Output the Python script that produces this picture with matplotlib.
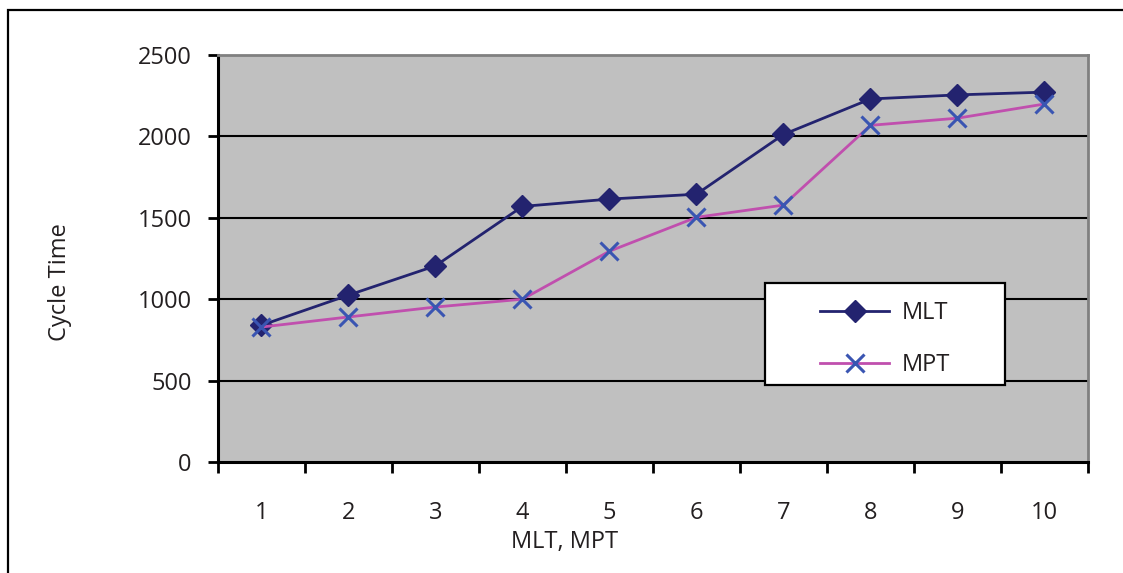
import matplotlib
matplotlib.use("Agg")
import matplotlib.pyplot as plt
from matplotlib.patches import Rectangle
from matplotlib.ticker import FixedLocator

# data
categories = [1, 2, 3, 4, 5, 6, 7, 8, 9, 10]
mlt = [840, 1025, 1205, 1570, 1615, 1645, 2012, 2230, 2255, 2272]
mpt = [829, 891, 952, 1000, 1295, 1503, 1578, 2068, 2112, 2199]
y_ticks = [0, 500, 1000, 1500, 2000, 2500]

plt.rcParams["font.family"] = ["Open Sans", "DejaVu Sans"]
FS = 17
TXT = "#231F20"

fig = plt.figure(figsize=(11.23, 5.73), dpi=100)
ax = fig.add_axes([0.1941, 0.1937, 0.7747, 0.7103])
ax.set_facecolor("#C0C0C0")

# outer chart frame (open to the right/bottom like the cropped original)
fig.patches.append(Rectangle((0.0071, -0.2), 1.2, 1.1825, transform=fig.transFigure,
                             fill=False, edgecolor="black", lw=1.6))

for y in y_ticks[1:-1]:
    ax.axhline(y, color="black", lw=1.5, zorder=1)

ax.plot(categories, mlt, color="#23236F", lw=2, marker="D", markersize=11,
        markerfacecolor="#23236F", markeredgecolor="#23236F", label="MLT", zorder=3)
ax.plot(categories, mpt, color="#C04FAE", lw=2, marker="x", markersize=13,
        markeredgewidth=2.2, markeredgecolor="#3A55B2", label="MPT", zorder=3)

ax.set_xlim(0.5, 10.5)
ax.set_ylim(0, 2500)
ax.set_yticks(y_ticks)
ax.set_xticks(categories)
ax.xaxis.set_minor_locator(FixedLocator([c + 0.5 for c in [0] + categories]))
ax.tick_params(axis="x", which="major", length=0, pad=28, labelsize=FS, labelcolor=TXT)
ax.tick_params(axis="x", which="minor", length=8, width=2, direction="out", color="black")
ax.tick_params(axis="y", length=7, width=2, direction="out", pad=12, labelsize=FS,
               color="black", labelcolor=TXT)

for side in ("left", "bottom"):
    ax.spines[side].set_color("black")
    ax.spines[side].set_linewidth(2.2)
for side in ("top", "right"):
    ax.spines[side].set_color("#808080")
    ax.spines[side].set_linewidth(2)

ax.set_ylabel("Cycle Time", fontsize=FS, color=TXT)
ax.yaxis.set_label_coords(-0.168, 0.442)
ax.set_xlabel("MLT, MPT", fontsize=FS, color=TXT)
ax.xaxis.set_label_coords(0.398, -0.167)

# legend box drawn separately so the entries sit centred inside it
box = (0.629, 0.189, 0.276, 0.251)
ax.add_patch(Rectangle(box[:2], box[2], box[3], transform=ax.transAxes,
                       facecolor="white", edgecolor="black", lw=1.6, zorder=4))
leg = ax.legend(loc="center",
                bbox_to_anchor=(box[0] + box[2] / 2, box[1] + box[3] / 2 - 0.013),
                fontsize=FS, frameon=False, handlelength=2.9, handletextpad=0.55,
                labelspacing=1.2, borderpad=0, borderaxespad=0)
leg.set_zorder(5)
for t in leg.get_texts():
    t.set_color(TXT)

fig.savefig("out.png", dpi=100)
